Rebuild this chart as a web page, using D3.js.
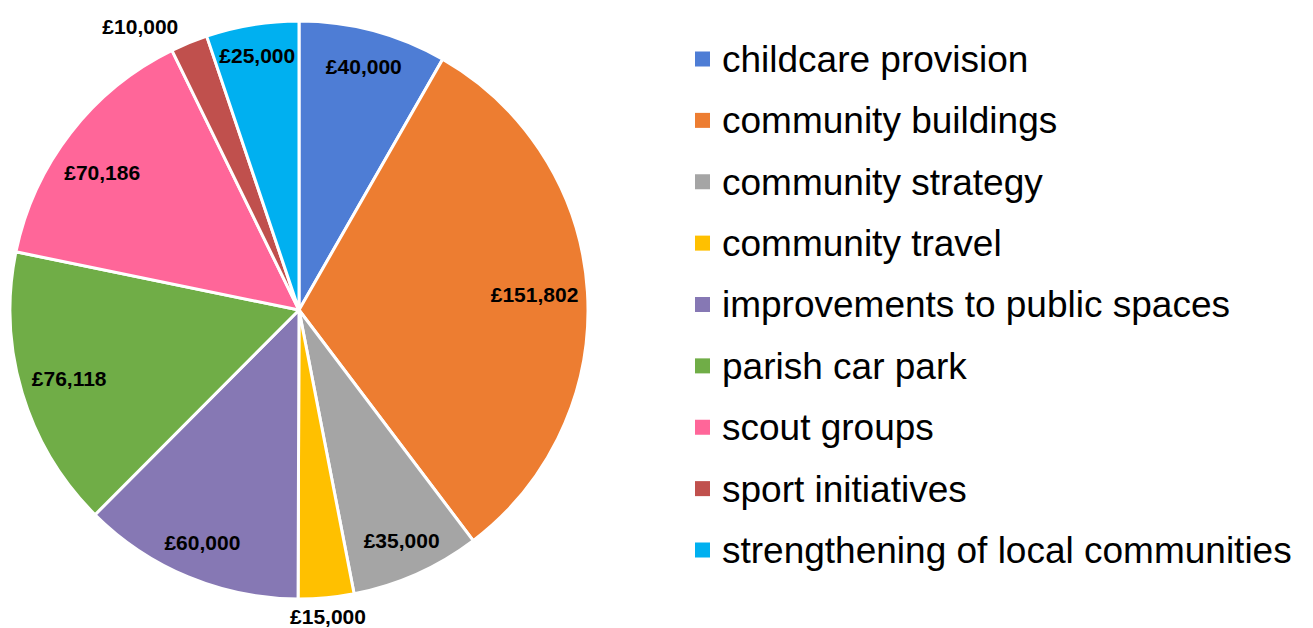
<!DOCTYPE html>
<meta charset="utf-8">
<style>
body { margin: 0; background: #fff; }
text { font-family: "Liberation Sans", Arial, sans-serif; }
.lbl { font-size: 21px; font-weight: bold; fill: #000; }
.leg text { font-size: 37px; fill: #000; }
</style>
<body>
<script src="https://d3js.org/d3.v7.min.js"></script>
<script>

// data
var categories = ["childcare provision", "community buildings", "community strategy",
  "community travel", "improvements to public spaces", "parish car park",
  "scout groups", "sport initiatives", "strengthening of local communities"];
var amounts = [40000, 151802, 35000, 15000, 60000, 76118, 70186, 10000, 25000];
var amountLabels = ["£40,000", "£151,802", "£35,000", "£15,000", "£60,000",
  "£76,118", "£70,186", "£10,000", "£25,000"];
var colours = ["#4e7dd5", "#ed7d31", "#a5a5a5", "#ffc000", "#8678b4",
  "#70ad47", "#ff6699", "#c0504d", "#00b0f0"];

// label placement (radius from centre, angle nudge in radians)
var labelRadius = [252, 236, 252, 308, 252, 240, 240, 325, 258];
var labelNudge = [0, 0, 0, 0, 0, 0, -0.05, -0.12, 0];

var width = 1313, height = 628;
var cx = 299, cy = 310, radius = 289;

var svg = d3.select("body").append("svg")
  .attr("width", width)
  .attr("height", height);

var pie = d3.pie().sort(null).value(function(d) { return d; });
var arcs = pie(amounts);

var arc = d3.arc().innerRadius(0).outerRadius(radius);

var g = svg.append("g").attr("transform", "translate(" + cx + "," + cy + ")");

g.selectAll("path")
  .data(arcs)
  .enter().append("path")
    .attr("d", arc)
    .attr("fill", function(d, i) { return colours[i]; })
    .attr("stroke", "#fff")
    .attr("stroke-width", 3)
    .attr("stroke-linejoin", "round");

g.selectAll(".lbl")
  .data(arcs)
  .enter().append("text")
    .attr("class", "lbl")
    .attr("text-anchor", "middle")
    .attr("dy", "0.35em")
    .attr("x", function(d, i) {
      var a = (d.startAngle + d.endAngle) / 2 + labelNudge[i];
      return Math.sin(a) * labelRadius[i];
    })
    .attr("y", function(d, i) {
      var a = (d.startAngle + d.endAngle) / 2 + labelNudge[i];
      return -Math.cos(a) * labelRadius[i];
    })
    .text(function(d, i) { return amountLabels[i]; });

// legend
var legY = d3.scalePoint().domain(categories).range([59, 550]);

var legend = svg.selectAll(".leg")
  .data(categories)
  .enter().append("g")
    .attr("class", "leg")
    .attr("transform", function(d) { return "translate(695," + legY(d) + ")"; });

legend.append("rect")
  .attr("x", 0)
  .attr("y", -7.5)
  .attr("width", 15)
  .attr("height", 15)
  .attr("fill", function(d, i) { return colours[i]; });

legend.append("text")
  .attr("x", 27)
  .attr("dy", "0.35em")
  .text(function(d) { return d; });

</script>
